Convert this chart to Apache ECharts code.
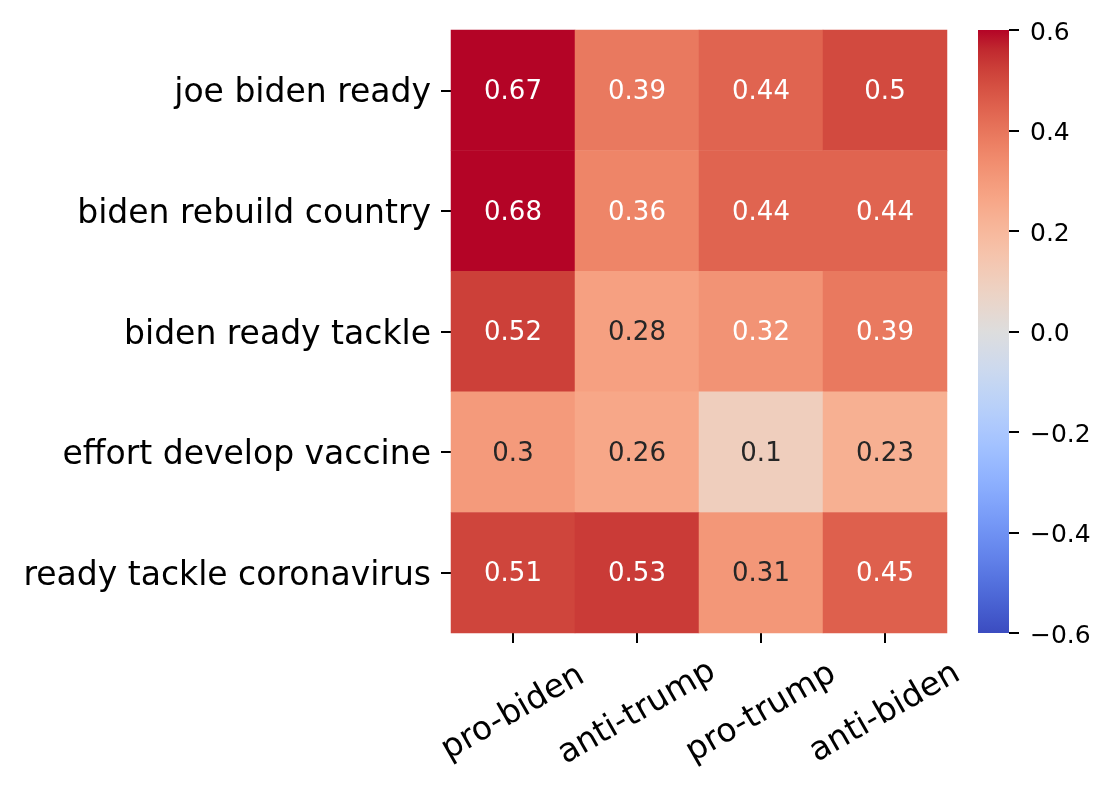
<!DOCTYPE html>
<html>
<head>
<meta charset="utf-8">
<script src="https://cdn.jsdelivr.net/npm/echarts@6/dist/echarts.min.js"></script>
<style>html,body{margin:0;padding:0;background:#fff;}#c{width:1115px;height:791px;}</style>
</head>
<body>
<div id="c"></div>
<script>
const columns = ['pro-biden', 'anti-trump', 'pro-trump', 'anti-biden'];
const rows = ['joe biden ready', 'biden rebuild country', 'biden ready tackle', 'effort develop vaccine', 'ready tackle coronavirus'];
const rowJoeBidenReady = [0.67, 0.39, 0.44, 0.5];
const rowBidenRebuildCountry = [0.68, 0.36, 0.44, 0.44];
const rowBidenReadyTackle = [0.52, 0.28, 0.32, 0.39];
const rowEffortDevelopVaccine = [0.3, 0.26, 0.1, 0.23];
const rowReadyTackleCoronavirus = [0.51, 0.53, 0.31, 0.45];
const colorMin = -0.6, colorMax = 0.6, colorStep = 0.2;

const coolwarm = [[59,76,192],[68,90,204],[77,104,215],[87,117,225],[98,130,234],[108,142,241],[119,154,247],[130,165,251],[141,176,254],[152,185,255],[163,194,255],[174,201,253],[184,208,249],[194,213,244],[204,217,238],[213,219,230],[221,221,221],[229,216,209],[236,211,197],[241,204,185],[245,196,173],[247,187,160],[247,177,148],[247,166,135],[244,154,123],[241,141,111],[236,127,99],[229,112,88],[222,96,77],[213,80,66],[203,62,56],[192,40,47],[180,4,38]].map(c => 'rgb(' + c.join(',') + ')');

const matrix = [rowJoeBidenReady, rowBidenRebuildCountry, rowBidenReadyTackle, rowEffortDevelopVaccine, rowReadyTackleCoronavirus];
const data = [];
matrix.forEach((r, ri) => r.forEach((v, ci) => data.push([ci, ri, v])));

const n = coolwarm.length;
const gradStops = coolwarm.map((c, i) => ({offset: 1 - i / (n - 1), color: c})).reverse();

const font = 'DejaVu Sans';
const chart = echarts.init(document.getElementById('c'), null, {renderer: 'canvas'});
chart.setOption({
  animation: false,
  backgroundColor: '#fff',
  textStyle: {fontFamily: font},
  grid: [
    {left: 451, top: 30, width: 496, height: 603, containLabel: false},
    {left: 978, top: 30, width: 31, height: 603, containLabel: false}
  ],
  graphic: [{
    type: 'rect', left: 978, top: 30, silent: true, z: -1,
    shape: {width: 31, height: 603},
    style: {fill: new echarts.graphic.LinearGradient(0, 0, 0, 1, gradStops)}
  }],
  xAxis: [
    {type: 'category', gridIndex: 0, data: columns,
     axisLine: {show: false}, splitLine: {show: false},
     axisTick: {show: true, alignWithLabel: true, length: 10, lineStyle: {color: '#000', width: 2}},
     axisLabel: {rotate: 30, align: 'center', verticalAlign: 'middle', margin: 80, fontSize: 33, color: '#000', fontFamily: font, interval: 0}},
    {type: 'value', gridIndex: 1, show: false, min: 0, max: 1}
  ],
  yAxis: [
    {type: 'category', gridIndex: 0, data: rows, inverse: true,
     axisLine: {show: false}, splitLine: {show: false},
     axisTick: {show: true, alignWithLabel: true, length: 10, lineStyle: {color: '#000', width: 2}},
     axisLabel: {color: '#000', margin: 20, fontFamily: font, interval: 0,
       formatter: v => '{a|' + v + '}',
       rich: {a: {fontSize: 33, color: '#000', fontFamily: font, padding: [7, 0, 0, 0]}}}},
    {type: 'value', gridIndex: 1, position: 'right', min: colorMin, max: colorMax, interval: colorStep,
     axisLine: {show: false, onZero: false}, splitLine: {show: false},
     axisTick: {show: true, length: 10, lineStyle: {color: '#000', width: 2}},
     axisLabel: {color: '#000', margin: 21, fontFamily: font,
       formatter: v => { const x = Math.abs(v) < 1e-9 ? 0 : v; return '{a|' + x.toFixed(1).replace('-', '\u2212') + '}'; },
       rich: {a: {fontSize: 25, color: '#000', fontFamily: font, padding: [6, 0, 0, 0]}}}}
  ],
  visualMap: {
    type: 'continuous', min: colorMin, max: colorMax, seriesIndex: 0,
    show: false, calculable: false,
    inRange: {color: coolwarm}
  },
  series: [
    {type: 'heatmap', xAxisIndex: 0, yAxisIndex: 0, data: data,
     itemStyle: {borderWidth: 0},
     emphasis: {disabled: true},
     label: {show: true, fontFamily: font, offset: [0, 2],
       formatter: p => {
         const v = p.value[2];
         const s = String(parseFloat(v.toFixed(2)));
         return (v > 0.315 ? '{w|' : '{d|') + s + '}';
       },
       rich: {w: {color: '#fff', fontSize: 26, fontFamily: font}, d: {color: '#262626', fontSize: 26, fontFamily: font}}}
    },
    {type: 'scatter', xAxisIndex: 1, yAxisIndex: 1, data: []}
  ]
});
</script>
</body>
</html>
